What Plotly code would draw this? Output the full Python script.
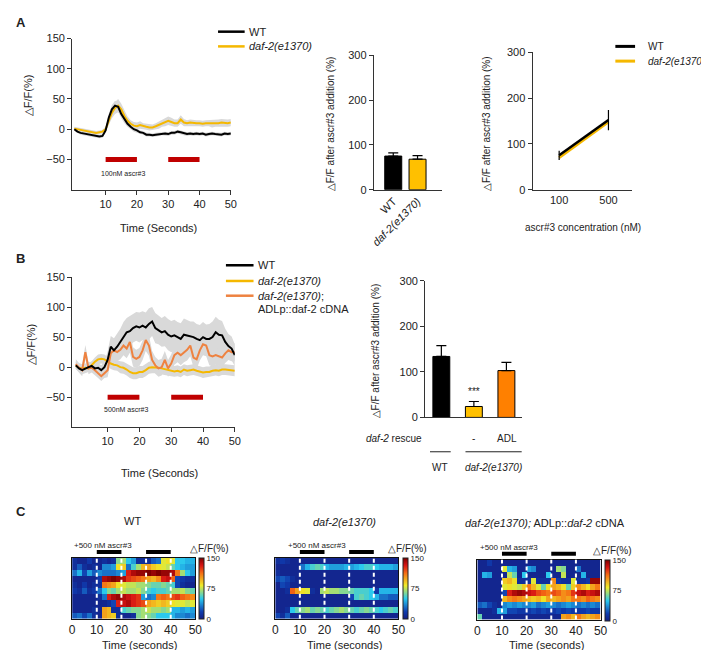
import plotly.graph_objects as go

W, H = 709, 650
FONT = "Liberation Sans, Arial, sans-serif"

BLACK = "#000000"
YELLOW = "#f5b800"
ORANGE = "#ee8240"
BAR_ORANGE = "#ff8000"
BAR_YELLOW = "#ffc000"
STIM_RED = "#c00000"
BAND = "#d9d9d9"

# ---- panel A: calcium traces, 100 nM ascr#3 (1 s samples) ----
time_a = list(range(51))
wt_a = [0, -4, -6, -7, -9, -10, -10, -11, -12, -11,
        -2, 19, 33, 39, 37, 25, 16, 9, 4, 0,
        -2, -5, -6, -9, -9, -10, -9, -8, -7, -7,
        -8, -6, -6, -4, -5, -7, -8, -7, -8, -7,
        -8, -7, -9, -8, -7, -8, -8, -9, -7, -8, -7]
wt_a_sem = [2, 2, 3, 3, 3, 3, 3, 3, 3, 3,
            4, 6, 7, 8, 8, 7, 6, 5, 4, 4,
            4, 3, 3, 3, 3, 3, 3, 3, 3, 3,
            3, 3, 3, 3, 3, 3, 3, 3, 3, 3,
            3, 3, 3, 3, 3, 3, 3, 3, 3, 3, 3]
daf_a = [1, 0, -2, -3, -4, -5, -5, -6, -5, -4,
         0, 14, 27, 35, 39, 33, 22, 14, 9, 6,
         5, 7, 5, 4, 3, 3, 5, 7, 10, 12,
         14, 12, 10, 10, 16, 11, 10, 11, 10, 10,
         10, 9, 10, 10, 9, 10, 10, 11, 10, 10, 11]
daf_a_sem = [3, 3, 3, 3, 3, 3, 3, 3, 3, 3,
             4, 7, 9, 10, 11, 9, 8, 7, 6, 6,
             6, 6, 5, 5, 5, 5, 5, 6, 6, 7,
             7, 7, 6, 6, 7, 6, 5, 5, 5, 5,
             5, 5, 5, 5, 6, 6, 6, 6, 6, 6, 6]

# ---- panel A: bar + dose response ----
bar_a_labels = ["WT", "<i>daf-2(e1370)</i>"]
bar_a_vals = [75, 68]
bar_a_err = [7, 8]
dose_labels = ["100", "500"]
dose_wt = [75, 152]
dose_wt_err = [10, 22]
dose_daf = [70, 148]

# ---- panel B: calcium traces, 500 nM ascr#3 ----
time_b = list(range(51))
wt_b = [3, -2, -5, -2, 0, 2, -2, -1, -5, 0,
        12, 34, 28, 34, 42, 51, 58, 60, 65, 68,
        66, 69, 66, 72, 76, 65, 62, 58, 60, 54,
        51, 53, 50, 47, 54, 53, 51, 50, 47, 45,
        50, 47, 47, 50, 58, 54, 53, 42, 35, 31, 20]
wt_b_sem = [6, 6, 7, 8, 8, 7, 8, 8, 8, 9,
            14, 18, 20, 22, 22, 24, 24, 25, 24, 24,
            25, 24, 25, 26, 24, 25, 24, 24, 25, 26,
            26, 26, 25, 26, 27, 26, 25, 26, 25, 25,
            25, 24, 25, 26, 26, 25, 24, 22, 20, 20, 18]
daf_b = [3, -1, -2, -1, -2, 4, 9, 13, 14, 13,
         9, 6, 4, 3, 0, -1, -4, -8, -10, -10,
         -8, -8, -5, -1, 0, 0, -1, -2, -3, -5,
         -6, -7, -6, -8, -4, -6, -5, -4, -6, -7,
         -9, -8, -8, -6, -5, -6, -4, -4, -5, -5, -6]
daf_b_sem = [5, 5, 6, 6, 6, 7, 7, 8, 8, 8,
             8, 9, 9, 9, 10, 10, 10, 10, 10, 10,
             10, 10, 10, 10, 10, 10, 10, 9, 9, 9,
             9, 9, 9, 9, 9, 9, 9, 9, 9, 9,
             9, 9, 9, 9, 9, 9, 9, 9, 9, 9, 9]
adl_b = [5, -1, -5, 25, -2, -1, -5, -10, -15, -10,
         -5, 23, 28, 25, 29, 36, 31, 42, 17, 14,
         17, 28, 45, 36, 12, 3, -2, 0, 12, -2,
         6, 20, 24, 20, 25, 29, 36, 16, 13, 28,
         38, 36, 20, 18, 20, 18, 16, 23, 28, 25, 25]
adl_b_sem = [8, 8, 10, 12, 10, 8, 8, 8, 8, 8,
             12, 14, 15, 15, 16, 16, 16, 18, 16, 15,
             15, 16, 18, 17, 15, 14, 14, 14, 15, 14,
             15, 16, 16, 17, 17, 18, 18, 16, 16, 17,
             18, 18, 17, 17, 16, 16, 16, 16, 16, 15, 15]

# ---- panel B: bar chart ----
bar_b_vals = [134, 24, 103]
bar_b_err = [24, 11, 18]
bar_b_colors = [BLACK, BAR_YELLOW, BAR_ORANGE]

stim_windows = [(10, 20), (30, 40)]

# ---- panel C: heatmaps, 2 s bins, one row per animal ----
heat_time = list(range(1, 50, 2))
heat_wt = [
    [10, 5, 5, 15, 5, 5, 10, 5, 10, 65, 70, 50, 40, 10, 10, 10, 25, 30, 80, 85, 80, 50, 50, 45, 45],
    [10, 25, 10, 5, 10, 5, 35, 35, 40, 85, 90, 30, 55, 70, 95, 100, 90, 85, 80, 75, 60, 50, 45, 40, 40],
    [30, 45, 20, 40, 25, 35, 30, 30, 30, 35, 40, 130, 140, 145, 145, 150, 145, 150, 145, 145, 140, 110, 70, 50, 40],
    [5, 5, 5, 5, 5, 15, 140, 145, 150, 145, 140, 125, 120, 115, 110, 100, 95, 105, 130, 135, 115, 20, 15, 10, 10],
    [10, 5, 15, 5, 10, 10, 110, 105, 100, 85, 80, 75, 75, 70, 70, 65, 60, 60, 65, 60, 55, 20, 10, 5, 5],
    [15, 10, 25, 10, 15, 30, 50, 65, 60, 70, 75, 70, 70, 75, 65, 55, 50, 55, 55, 60, 70, 70, 75, 65, 60],
    [5, 5, 5, 5, 5, 10, 30, 130, 140, 145, 140, 135, 130, 125, 40, 30, 35, 110, 115, 110, 120, 125, 115, 110, 105],
    [5, 5, 5, 5, 5, 5, 5, 10, 20, 130, 135, 140, 130, 125, 120, 100, 95, 90, 95, 90, 85, 80, 80, 75, 80],
    [5, 5, 5, 5, 10, 5, 100, 95, 10, 10, 55, 60, 65, 65, 70, 75, 70, 70, 65, 70, 45, 45, 40, 45, 40],
    [25, 30, 20, 30, 10, 5, 100, 95, 90, 10, 5, 5, 10, 65, 70, 65, 60, 50, 50, 50, 45, 35, 35, 30, 35],
]
heat_daf = [
    [10, 15, 10, 5, 5, 5, 5, 5, 5, 5, 5, 5, 5, 5, 5, 5, 5, 5, 5, 5, 5, 5, 5, 5, 5],
    [5, 5, 5, 5, 5, 30, 45, 55, 60, 55, 45, 40, 40, 40, 45, 40, 45, 50, 55, 55, 50, 45, 45, 45, 40],
    [10, 5, 5, 5, 5, 5, 5, 5, 5, 5, 5, 5, 5, 5, 5, 5, 5, 5, 5, 5, 5, 5, 5, 5, 5],
    [20, 25, 20, 10, 5, 5, 5, 5, 5, 5, 5, 5, 5, 5, 5, 5, 5, 5, 5, 5, 5, 5, 5, 5, 5],
    [5, 20, 15, 5, 5, 5, 5, 5, 5, 5, 5, 5, 5, 5, 5, 5, 5, 5, 5, 5, 5, 5, 5, 5, 5],
    [5, 5, 10, 115, 100, 85, 80, 10, 5, 70, 75, 70, 70, 65, 65, 60, 55, 55, 55, 50, 15, 45, 45, 45, 45],
    [5, 5, 5, 5, 5, 5, 5, 5, 5, 5, 5, 5, 5, 5, 5, 20, 55, 60, 55, 50, 45, 30, 30, 25, 25],
    [5, 5, 5, 5, 5, 5, 5, 5, 5, 5, 5, 5, 5, 5, 5, 5, 5, 5, 5, 5, 5, 5, 5, 5, 5],
    [5, 5, 10, 50, 60, 65, 70, 60, 65, 60, 55, 60, 65, 70, 65, 60, 55, 60, 65, 60, 55, 50, 55, 60, 55],
    [20, 10, 25, 5, 5, 5, 5, 5, 5, 5, 5, 5, 5, 5, 5, 5, 5, 5, 5, 5, 5, 5, 5, 5, 5],
]
heat_adl = [
    [5, 5, 15, 5, 5, 5, 5, 5, 5, 5, 5, 5, 5, 5, 5, 5, 5, 5, 5, 5, 5, 5, 5, 5, 5],
    [5, 5, 5, 5, 5, 80, 45, 40, 5, 5, 40, 35, 5, 5, 5, 5, 70, 65, 5, 5, 30, 5, 5, 5, 5],
    [5, 45, 40, 5, 5, 5, 75, 60, 5, 50, 5, 5, 5, 5, 50, 5, 5, 75, 5, 5, 5, 45, 5, 5, 5],
    [5, 5, 5, 5, 5, 90, 95, 85, 10, 10, 10, 80, 10, 10, 10, 105, 15, 10, 10, 80, 10, 10, 15, 145, 145],
    [5, 5, 5, 5, 5, 80, 85, 80, 75, 90, 110, 95, 80, 60, 85, 100, 95, 85, 60, 90, 105, 95, 85, 100, 110],
    [5, 5, 5, 5, 5, 20, 130, 140, 145, 140, 135, 130, 120, 115, 110, 120, 115, 105, 110, 125, 135, 140, 130, 135, 140],
    [5, 5, 5, 5, 5, 95, 105, 110, 105, 100, 95, 90, 95, 85, 100, 95, 100, 105, 100, 110, 110, 105, 115, 110, 105],
    [25, 30, 20, 10, 5, 35, 40, 35, 40, 35, 35, 40, 30, 35, 40, 35, 30, 35, 40, 35, 30, 35, 30, 35, 30],
    [5, 5, 5, 10, 45, 40, 20, 20, 15, 15, 15, 20, 15, 20, 15, 15, 20, 15, 20, 15, 15, 15, 20, 15, 15],
    [60, 5, 5, 5, 5, 5, 5, 5, 5, 5, 5, 5, 5, 5, 5, 5, 5, 100, 105, 95, 110, 100, 95, 100, 105],
]

JET = [[0.0, "rgb(20,30,130)"], [0.12, "rgb(15,60,175)"], [0.33, "rgb(40,200,240)"],
       [0.55, "rgb(240,235,40)"], [0.75, "rgb(245,110,20)"], [0.88, "rgb(215,20,20)"],
       [1.0, "rgb(125,0,0)"]]


def dx(a, b):
    return [a / W, b / W]


def dy(top, bot):
    return [1 - bot / H, 1 - top / H]


def note(fig, px, py, text, size=11, anchor="center", angle=0, bold=False):
    if bold:
        text = "<b>" + text + "</b>"
    fig.add_annotation(x=px / W, y=1 - py / H, xref="paper", yref="paper",
                       text=text, showarrow=False, xanchor=anchor, yanchor="middle",
                       textangle=angle, font=dict(size=size, color="#222", family=FONT))


def hline_px(fig, x0, x1, py, color, width):
    fig.add_shape(type="line", xref="paper", yref="paper", x0=x0 / W, x1=x1 / W,
                  y0=1 - py / H, y1=1 - py / H, line=dict(color=color, width=width))


def band(fig, t, mean, sem, xa, ya):
    upper = [m + s for m, s in zip(mean, sem)]
    lower = [m - s for m, s in zip(mean, sem)]
    fig.add_trace(go.Scatter(x=t + t[::-1], y=upper + lower[::-1], fill="toself",
                             fillcolor=BAND, line=dict(width=0), hoverinfo="skip",
                             showlegend=False, xaxis=xa, yaxis=ya))


def trace(fig, t, vals, color, xa, ya):
    fig.add_trace(go.Scatter(x=t, y=vals, mode="lines", line=dict(color=color, width=2),
                             showlegend=False, xaxis=xa, yaxis=ya))


fig = go.Figure()
axis_common = dict(showline=True, linecolor="#333", linewidth=1, ticks="outside",
                   ticklen=4, tickcolor="#333", showgrid=False, zeroline=False,
                   tickfont=dict(size=11, color="#222", family=FONT))

# ---- A: traces ----
band(fig, time_a, daf_a, daf_a_sem, "x", "y")
band(fig, time_a, wt_a, wt_a_sem, "x", "y")
trace(fig, time_a, daf_a, YELLOW, "x", "y")
trace(fig, time_a, wt_a, BLACK, "x", "y")
for s0, s1 in stim_windows:
    fig.add_shape(type="line", xref="x", yref="y", x0=s0, x1=s1, y0=-50, y1=-50,
                  line=dict(color=STIM_RED, width=5))

# ---- A: bar ----
fig.add_trace(go.Bar(x=[0, 1], y=bar_a_vals, width=0.7,
                     marker=dict(color=[BLACK, BAR_YELLOW], line=dict(color=BLACK, width=1)),
                     error_y=dict(type="data", symmetric=False, array=bar_a_err,
                                  arrayminus=[0, 0], color=BLACK, thickness=1.2, width=5),
                     showlegend=False, xaxis="x2", yaxis="y2"))

# ---- A: dose response ----
fig.add_trace(go.Scatter(x=[0, 1], y=dose_daf, mode="lines", line=dict(color=YELLOW, width=3),
                         showlegend=False, xaxis="x3", yaxis="y3"))
fig.add_trace(go.Scatter(x=[0, 1], y=dose_wt, mode="lines", line=dict(color=BLACK, width=2.5),
                         error_y=dict(type="data", array=dose_wt_err, color=BLACK,
                                      thickness=1.2, width=0),
                         showlegend=False, xaxis="x3", yaxis="y3"))

# ---- B: traces ----
band(fig, time_b, daf_b, daf_b_sem, "x4", "y4")
band(fig, time_b, adl_b, adl_b_sem, "x4", "y4")
band(fig, time_b, wt_b, wt_b_sem, "x4", "y4")
trace(fig, time_b, daf_b, YELLOW, "x4", "y4")
trace(fig, time_b, adl_b, ORANGE, "x4", "y4")
trace(fig, time_b, wt_b, BLACK, "x4", "y4")
for s0, s1 in stim_windows:
    fig.add_shape(type="line", xref="x4", yref="y4", x0=s0, x1=s1, y0=-50, y1=-50,
                  line=dict(color=STIM_RED, width=5))

# ---- B: bar ----
fig.add_trace(go.Bar(x=[0, 1, 2], y=bar_b_vals, width=0.52,
                     marker=dict(color=bar_b_colors, line=dict(color=BLACK, width=1)),
                     error_y=dict(type="data", symmetric=False, array=bar_b_err,
                                  arrayminus=[0, 0, 0], color=BLACK, thickness=1.2, width=5),
                     showlegend=False, xaxis="x5", yaxis="y5"))
fig.add_annotation(x=1, y=56, xref="x5", yref="y5", text="***", showarrow=False,
                   font=dict(size=10, color="#222", family=FONT))

# ---- C: heatmaps ----
heat_specs = [
    (heat_wt, "x6", "y6", 191),
    (heat_daf, "x7", "y7", 398),
    (heat_adl, "x8", "y8", 603),
]
heat_tops = {"y6": 554, "y7": 554, "y8": 556}
for z, xa, ya, cbx in heat_specs:
    top = heat_tops[ya]
    fig.add_trace(go.Heatmap(
        z=z, x=heat_time, y=list(range(len(z))), colorscale=JET, zmin=0, zmax=150,
        xaxis=xa, yaxis=ya,
        colorbar=dict(x=cbx / W, xanchor="left", y=1 - top / H, yanchor="top",
                      len=62 / H, lenmode="fraction", thickness=5, xpad=0, ypad=0,
                      outlinewidth=1, outlinecolor="#222", tickvals=[0, 75, 150],
                      ticks="", tickfont=dict(size=8, color="#222", family=FONT))))
    for t in [10, 20, 30, 40]:
        fig.add_shape(type="line", xref=xa, yref=ya + " domain", x0=t, x1=t, y0=0, y1=1,
                      line=dict(color="white", width=2, dash="4px,3px"))
    for s0, s1 in stim_windows:
        fig.add_shape(type="line", xref=xa, yref="paper", x0=s0, x1=s1,
                      y0=1 - (top - 6) / H, y1=1 - (top - 6) / H,
                      line=dict(color=BLACK, width=4))

heat_axis_x = dict(range=[0, 50], showline=True, mirror=True, linecolor="#111", linewidth=1,
                   ticks="", tickvals=[0, 10, 20, 30, 40, 50], showgrid=False, zeroline=False,
                   tickfont=dict(size=12, color="#222", family=FONT))
heat_axis_y = dict(range=[9.5, -0.5], showline=True, mirror=True, linecolor="#111",
                   linewidth=1, showticklabels=False, ticks="", showgrid=False, zeroline=False)

fig.update_layout(
    width=W, height=H, margin=dict(l=0, r=0, t=0, b=0),
    paper_bgcolor="white", plot_bgcolor="white", showlegend=False,
    font=dict(family=FONT, color="#222"),
    xaxis=dict(axis_common, domain=dx(62, 223), range=[-0.7, 50], tickvals=[10, 20, 30, 40, 50]),
    yaxis=dict(axis_common, domain=dy(25, 179), range=[-100, 150], tickvals=[-50, 0, 50, 100, 150]),
    xaxis2=dict(axis_common, domain=dx(368, 437), range=[-0.8, 2.0], tickvals=[0, 1],
                ticktext=bar_a_labels, tickangle=-45, ticks=""),
    yaxis2=dict(axis_common, domain=dy(42, 179), range=[0, 300], tickvals=[0, 100, 200, 300]),
    xaxis3=dict(axis_common, domain=dx(529, 630), range=[-0.54, 1.48], tickvals=[0, 1],
                ticktext=dose_labels, ticks=""),
    yaxis3=dict(axis_common, domain=dy(39, 179), range=[0, 300], tickvals=[0, 100, 200, 300]),
    xaxis4=dict(axis_common, domain=dx(62, 227), range=[-1.16, 50], tickvals=[10, 20, 30, 40, 50]),
    yaxis4=dict(axis_common, domain=dy(268, 421), range=[-100, 150], tickvals=[-50, 0, 50, 100, 150]),
    xaxis5=dict(axis_common, domain=dx(420, 518), range=[-0.5, 2.47], showticklabels=False, ticks=""),
    yaxis5=dict(axis_common, domain=dy(272, 411), range=[0, 300], tickvals=[0, 100, 200, 300]),
    xaxis6=dict(heat_axis_x, domain=dx(62, 187), anchor="y6"),
    yaxis6=dict(heat_axis_y, domain=dy(554, 616), anchor="x6"),
    xaxis7=dict(heat_axis_x, domain=dx(268, 393), anchor="y7"),
    yaxis7=dict(heat_axis_y, domain=dy(554, 616), anchor="x7"),
    xaxis8=dict(heat_axis_x, domain=dx(473, 598), anchor="y8"),
    yaxis8=dict(heat_axis_y, domain=dy(556, 617), anchor="x8"),
)
for i in range(1, 6):
    sfx = "" if i == 1 else str(i)
    fig.layout["xaxis" + sfx].anchor = "y" + sfx
    fig.layout["yaxis" + sfx].anchor = "x" + sfx

# ---- panel letters ----
note(fig, 10, 9, "A", 13, bold=True)
note(fig, 10, 249, "B", 13, bold=True)
note(fig, 10, 507, "C", 13, bold=True)

# ---- A labels ----
note(fig, 18, 83, "△F/F(%)", 11, angle=-90)
note(fig, 150, 218, "Time (Seconds)", 11)
note(fig, 114, 162, "100nM ascr#3", 7)
hline_px(fig, 210, 237, 18, BLACK, 2.5)
hline_px(fig, 210, 237, 33, YELLOW, 2.5)
note(fig, 239, 18, "WT", 11, anchor="left")
note(fig, 239, 33, "<i>daf-2(e1370)</i>", 11, anchor="left")
note(fig, 325, 112, "△F/F after ascr#3 addition (%)", 10, angle=-90)
note(fig, 483, 112, "△F/F after ascr#3 addition (%)", 10, angle=-90)
note(fig, 580, 218, "ascr#3 concentration (nM)", 10)
hline_px(fig, 613, 633, 33, BLACK, 3)
hline_px(fig, 613, 633, 48, YELLOW, 3)
note(fig, 644, 33, "WT", 10, anchor="left")
note(fig, 644, 48, "<i>daf-2(e1370)</i>", 10, anchor="left")

# ---- B labels ----
note(fig, 20, 337, "△F/F(%)", 11, angle=-90)
note(fig, 151, 468, "Time (Seconds)", 11)
note(fig, 117, 403, "500nM ascr#3", 7)
hline_px(fig, 218, 246, 256, BLACK, 2.5)
hline_px(fig, 218, 246, 272, YELLOW, 2.5)
hline_px(fig, 218, 246, 287, ORANGE, 2.5)
note(fig, 248, 256, "WT", 11, anchor="left")
note(fig, 248, 272, "<i>daf-2(e1370)</i>", 11, anchor="left")
note(fig, 248, 287, "<i>daf-2(e1370)</i>;", 11, anchor="left")
note(fig, 248, 301, "ADLp::daf-2 cDNA", 11, anchor="left")
note(fig, 370, 343, "△F/F after ascr#3 addition (%)", 10, angle=-90)
note(fig, 419, 432, "<i>daf-2</i> rescue", 10, anchor="right")
note(fig, 469, 432, "-", 10)
note(fig, 503, 432, "ADL", 10)
hline_px(fig, 425, 446, 446, "#222", 1)
hline_px(fig, 461, 518, 446, "#222", 1)
note(fig, 435, 462, "WT", 10)
note(fig, 489, 462, "<i>daf-2(e1370)</i>", 10)

# ---- C labels ----
note(fig, 123, 517, "WT", 11)
note(fig, 338, 518, "<i>daf-2(e1370)</i>", 11)
note(fig, 542, 519, "<i>daf-2(e1370);</i> ADLp::<i>daf-2</i> cDNA", 11)
for cx, cy in [(93, 542), (310, 542), (505, 544)]:
    note(fig, cx, cy, "+500 nM ascr#3", 8)
for cx, cy in [(201, 545), (402, 545), (610, 547)]:
    note(fig, cx, cy, "△F/F(%)", 10)
for cx in [130, 338, 543]:
    note(fig, cx, 643, "Time (seconds)", 11)

fig.write_html("out.html")
